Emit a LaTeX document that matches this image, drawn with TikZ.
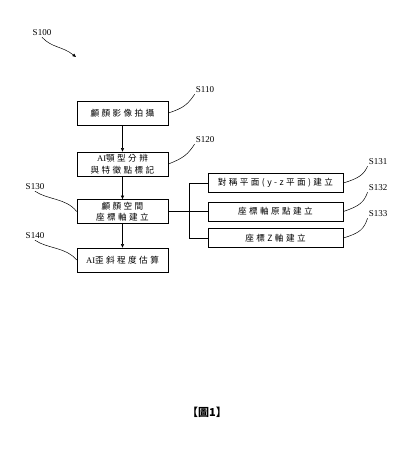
\documentclass[tikz,border=0pt]{standalone}
\usepackage{fontspec}
\setmainfont{Liberation Serif}
\newfontfamily\cjk[LetterSpace=28]{Noto Sans CJK TC}
\newfontfamily\cjkcap{Noto Sans CJK TC}
\usetikzlibrary{arrows.meta,positioning,calc}

\begin{document}
\begin{tikzpicture}[
  x=1pt,y=-1pt,
  font=\fontsize{8}{9}\selectfont,
  stepbox/.style={rectangle,draw,line width=0.65pt,minimum width=91pt,minimum height=24pt,align=center,inner sep=1pt,font=\cjk\fontsize{8.6}{11.5}\selectfont},
  subbox/.style={stepbox,minimum width=135pt,minimum height=19pt},
  tag/.style={inner sep=1pt,font=\fontsize{9}{10}\selectfont},
  lead/.style={line width=0.5pt},
  >={Triangle[length=3.5pt,width=3pt]}
]
\useasboundingbox (0,0) rectangle (414,452);
% main steps
\node[stepbox] (s110) at (122.5,113) {顱顏影像拍攝};
\node[stepbox] (s120) at (122.5,164) {\textrm{AI}顎型分辨\\與特徵點標記};
\node[stepbox] (s130) at (122.5,211.5) {顱顏空間\\座標軸建立};
\node[stepbox] (s140) at (122.5,260) {\textrm{AI}歪斜程度估算};
% sub steps of S130
\node[subbox] (s131) at (275.5,183) {對稱平面(y-z平面)建立};
\node[subbox] (s132) at (275.5,211.5) {座標軸原點建立};
\node[subbox] (s133) at (275.5,238) {座標Z軸建立};
\draw[->] (s110)--(s120); \draw[->] (s120)--(s130); \draw[->] (s130)--(s140);
\draw (s130.east)--(s132.west);
\draw (s131.west)-- ++(-18,0) |- (s133.west);
% step tags
\node[tag] (t100) at (42,33) {S100};
\node[tag] (t110) at (205,90) {S110};
\node[tag] (t120) at (205,140) {S120};
\node[tag] (t130) at (35,187) {S130};
\node[tag] (t140) at (35,236) {S140};
\node[tag] (t131) at (378,162) {S131};
\node[tag] (t132) at (378,188) {S132};
\node[tag] (t133) at (378,214) {S133};
\draw[lead,->] (t100.south) .. controls (52,48) and (62,46) .. (76,57);
\draw[lead] (s110.east) .. controls (184,108) and (188,104) .. (t110.south west);
\draw[lead] (s120.east) .. controls (184,158) and (188,154) .. (t120.south west);
\draw[lead] (t130.south) .. controls (48,200) and (66,198) .. (s130.west);
\draw[lead] (t140.south) .. controls (48,249) and (66,247) .. (s140.west);
\draw[lead] (s131.east) .. controls (360,178) and (364,174) .. (t131.south west);
\draw[lead] (s132.east) .. controls (360,206) and (364,202) .. (t132.south west);
\draw[lead] (s133.east) .. controls (360,233) and (364,229) .. (t133.south west);
% caption
\node[font=\cjkcap\bfseries\fontsize{11}{12}\selectfont] (cap) at (207,412) {【圖1】};
\end{tikzpicture}
\end{document}
